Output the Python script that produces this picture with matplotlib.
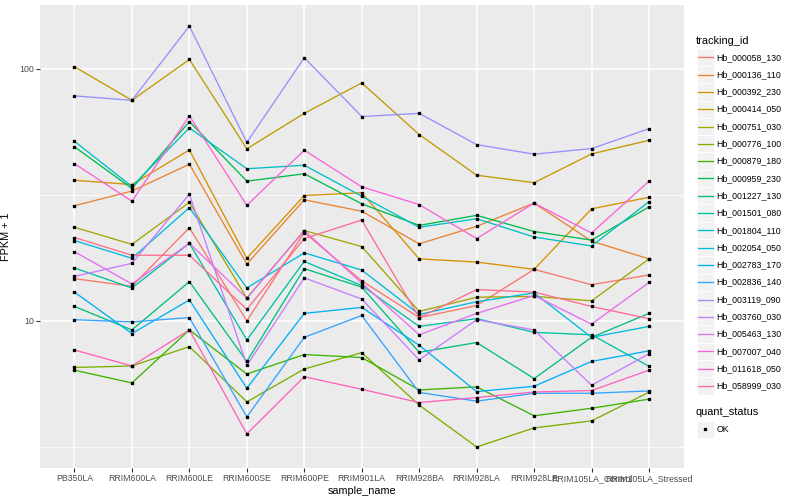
import numpy as np
import matplotlib
matplotlib.use('Agg')
import matplotlib.pyplot as plt
from matplotlib.lines import Line2D
from matplotlib.patches import Rectangle
from matplotlib.ticker import FixedLocator, NullFormatter

plt.rcParams['font.family'] = ['Liberation Sans', 'DejaVu Sans']

samples = ['PB350LA', 'RRIM600LA', 'RRIM600LE', 'RRIM600SE', 'RRIM600PE', 'RRIM901LA',
           'RRIM928BA', 'RRIM928LA', 'RRIM928LE', 'RRIM105LA_Control', 'RRIM105LA_Stressed']

tracking_ids = ['Hb_000058_130', 'Hb_000136_110', 'Hb_000392_230', 'Hb_000414_050',
                'Hb_000751_030', 'Hb_000776_100', 'Hb_000879_180', 'Hb_000959_230',
                'Hb_001227_130', 'Hb_001501_080', 'Hb_001804_110', 'Hb_002054_050',
                'Hb_002783_170', 'Hb_002836_140', 'Hb_003119_090', 'Hb_003760_030',
                'Hb_005463_130', 'Hb_007007_040', 'Hb_011618_050', 'Hb_058999_030']

# ggplot hue palette, 20 levels
colors = ['#F8766D', '#EA8331', '#D89000', '#C09B00', '#A3A500', '#7CAE00', '#39B600',
          '#00BB4E', '#00BF7D', '#00C1A3', '#00BFC4', '#00BAE0', '#00B0F6', '#35A2FF',
          '#9590FF', '#C77CFF', '#E76BF3', '#FA62DB', '#FF62BC', '#FF6C91']

# FPKM + 1 per sample
hb_000058_130 = [14.7, 13.7, 23.4, 10.0, 22.4, 14.4, 10.3, 11.5, 16.0, 13.9, 15.2]
hb_000136_110 = [28.6, 32.7, 41.8, 16.8, 30.2, 27.2, 20.2, 23.7, 29.3, 20.7, 17.6]
hb_000392_230 = [36.1, 34.7, 47.6, 17.7, 31.4, 32.2, 17.6, 17.1, 16.0, 27.8, 30.9]
hb_000414_050 = [101.8, 74.9, 108.8, 48.1, 66.5, 87.8, 54.8, 37.8, 35.3, 45.9, 52.0]
hb_000751_030 = [23.5, 20.1, 29.5, 12.3, 22.8, 19.7, 10.9, 12.4, 12.5, 12.0, 17.6]
hb_000776_100 = [6.53, 6.62, 7.9, 4.77, 6.44, 7.48, 4.63, 3.16, 3.76, 4.01, 5.21]
hb_000879_180 = [6.37, 5.67, 9.2, 6.15, 7.35, 7.15, 5.32, 5.47, 4.2, 4.5, 4.89]
hb_000959_230 = [49.0, 33.5, 61.7, 35.8, 38.3, 29.1, 23.9, 26.2, 22.6, 20.9, 28.3]
hb_001227_130 = [11.4, 9.2, 14.3, 6.9, 16.1, 13.6, 7.5, 8.2, 5.9, 8.6, 10.7]
hb_001501_080 = [16.2, 13.5, 20.3, 8.4, 17.2, 13.8, 9.5, 10.2, 9.0, 8.8, 6.6]
hb_001804_110 = [51.5, 34.1, 58.2, 40.1, 41.4, 31.2, 23.5, 25.4, 21.5, 19.8, 29.7]
hb_002054_050 = [20.8, 17.7, 28.1, 13.5, 18.6, 15.9, 10.6, 11.9, 12.9, 8.6, 9.5]
hb_002783_170 = [13.0, 8.9, 12.1, 5.4, 10.7, 11.3, 8.0, 5.24, 5.5, 6.9, 7.6]
hb_002836_140 = [10.1, 9.9, 10.3, 4.16, 8.6, 10.5, 5.2, 4.8, 5.16, 5.16, 5.27]
hb_003119_090 = [78.0, 74.9, 147.6, 51.0, 110.5, 64.6, 66.5, 50.0, 45.8, 48.2, 57.8]
hb_003760_030 = [15.0, 16.9, 31.8, 6.65, 14.8, 12.2, 7.0, 10.1, 9.2, 5.55, 7.4]
hb_005463_130 = [18.8, 14.0, 20.3, 12.3, 22.8, 14.1, 8.8, 10.7, 12.6, 9.7, 14.2]
hb_007007_040 = [42.0, 29.8, 65.0, 28.7, 47.5, 34.0, 28.9, 21.2, 29.3, 22.3, 35.8]
hb_011618_050 = [7.66, 6.62, 9.2, 3.56, 6.0, 5.35, 4.74, 4.96, 5.22, 5.29, 6.37]
hb_058999_030 = [21.4, 18.2, 18.2, 11.1, 21.2, 25.1, 10.3, 13.3, 13.0, 11.4, 10.2]

series = [hb_000058_130, hb_000136_110, hb_000392_230, hb_000414_050, hb_000751_030,
          hb_000776_100, hb_000879_180, hb_000959_230, hb_001227_130, hb_001501_080,
          hb_001804_110, hb_002054_050, hb_002783_170, hb_002836_140, hb_003119_090,
          hb_003760_030, hb_005463_130, hb_007007_040, hb_011618_050, hb_058999_030]

W, H = 800, 500
fig = plt.figure(figsize=(8, 5), dpi=100)
ax = fig.add_axes([40 / W, 32 / H, (683.5 - 40) / W, (468 - 5) / H])
ax.set_facecolor('#EBEBEB')
for s in ax.spines.values():
    s.set_visible(False)

x = np.arange(len(samples))
for vals, col in zip(series, colors):
    ax.plot(x, vals, color=col, lw=0.95, zorder=2)
for vals in series:
    ax.plot(x, vals, ls='none', marker='s', ms=2.1, color='black', zorder=3)

ax.set_yscale('log')
allv = np.log10(np.concatenate([np.array(v) for v in series]))
pad = 0.05 * (allv.max() - allv.min())
ax.set_ylim(10 ** (allv.min() - pad), 10 ** (allv.max() + pad))
ax.set_xlim(-0.6, len(samples) - 0.4)

ax.set_xticks(x)
ax.set_xticklabels(samples)
ax.yaxis.set_major_locator(FixedLocator([10, 100]))
ax.set_yticklabels(['10', '100'])
ax.yaxis.set_minor_locator(FixedLocator([10 ** 0.5, 10 ** 1.5, 10 ** 2.5]))
ax.yaxis.set_minor_formatter(NullFormatter())
ax.tick_params(which='major', length=3, width=0.8, color='#333333',
               labelsize=6.3, labelcolor='#4D4D4D', pad=1.5)
ax.tick_params(which='minor', length=0)
ax.grid(which='major', color='white', lw=1.1)
ax.grid(which='minor', axis='y', color='white', lw=0.55)
ax.set_axisbelow(True)

ax.set_xlabel('sample_name', fontsize=7.8, labelpad=2)
ax.set_ylabel('FPKM + 1', fontsize=7.8, labelpad=6)

# legends, drawn by hand in pixel positions
def fx(px):
    return px / W

def fy(py):
    return 1 - py / H

fig.text(fx(696), fy(40.5), 'tracking_id', fontsize=7.9, va='center', ha='left')
key = 17.3
for i, (name, col) in enumerate(zip(tracking_ids, colors)):
    yc = 57.3 + i * key
    fig.add_artist(Rectangle((fx(696.5), fy(yc + key / 2)), key / W, key / H,
                             transform=fig.transFigure, facecolor='#F2F2F2',
                             edgecolor='white', lw=0.6))
    fig.add_artist(Line2D([fx(697.5), fx(712.5)], [fy(yc), fy(yc)],
                          transform=fig.transFigure, color=col, lw=0.95))
    fig.text(fx(716.5), fy(yc), name, fontsize=6.3, va='center', ha='left')

fig.text(fx(696), fy(412), 'quant_status', fontsize=7.9, va='center', ha='left')
yc = 429.3
fig.add_artist(Rectangle((fx(696.5), fy(yc + key / 2)), key / W, key / H,
                         transform=fig.transFigure, facecolor='#F2F2F2',
                         edgecolor='white', lw=0.6))
fig.add_artist(Line2D([fx(705)], [fy(yc)], transform=fig.transFigure, ls='none',
                      marker='s', ms=2.1, color='black'))
fig.text(fx(716.5), fy(yc), 'OK', fontsize=6.3, va='center', ha='left')

fig.savefig('out.png', dpi=100)
